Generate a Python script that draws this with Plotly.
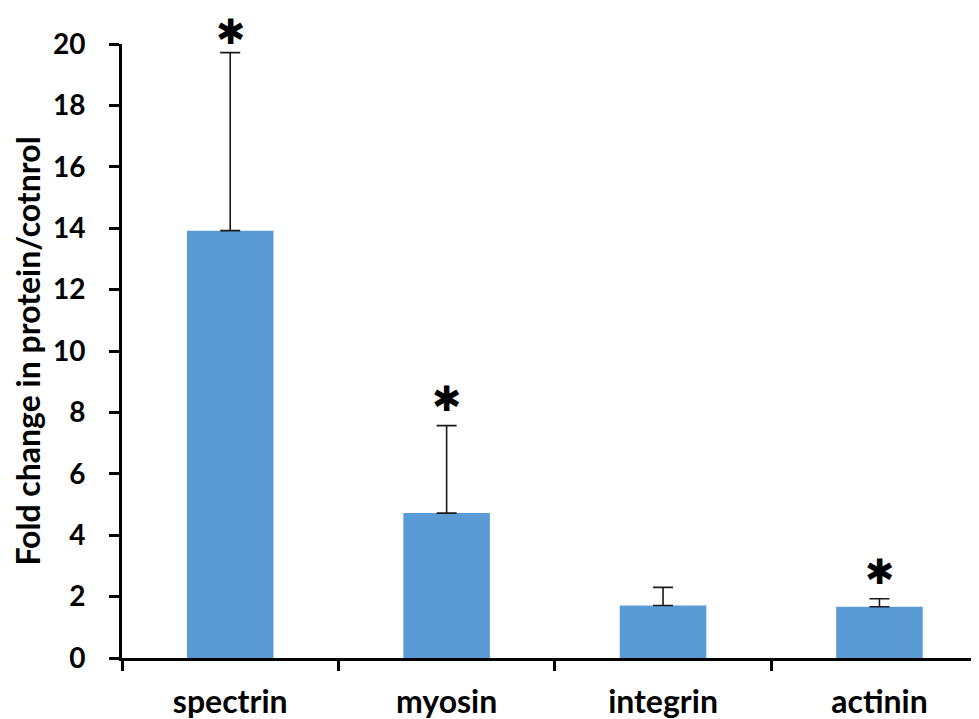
import plotly.graph_objects as go

categories = ["spectrin", "myosin", "integrin", "actinin"]
values = [13.92, 4.72, 1.71, 1.67]
err_plus = [5.80, 2.85, 0.59, 0.26]
significant = [True, True, False, True]

FONT = "Lato"

fig = go.Figure()
fig.add_trace(go.Bar(
    x=categories, y=values,
    marker=dict(color="#5B9BD5", line=dict(width=0)),
    error_y=dict(type="data", symmetric=False, array=err_plus,
                 arrayminus=[0] * len(values),
                 color="#1a1a1a", thickness=1.6, width=10),
))

for c, v, e, s in zip(categories, values, err_plus, significant):
    if s:
        top = v + e
        # the tallest star is kept inside the figure; the others sit a bit higher
        shift = 0 if top > 18 else 6
        fig.add_annotation(x=c, y=top, text="✱", showarrow=False,
                           yanchor="bottom", yshift=shift, borderpad=0,
                           font=dict(family="DejaVu Sans", size=35, color="black"))

# page body has an 8px margin, so the figure is sized to fit inside the window
fig.update_layout(
    width=971, height=711,
    margin=dict(l=114, r=0, t=36, b=61, autoexpand=False),
    paper_bgcolor="white", plot_bgcolor="white",
    bargap=0.6, showlegend=False,
    font=dict(family=FONT, color="black"),
)
fig.update_xaxes(
    range=[-0.5, 3.46], showline=True, linecolor="black", linewidth=3,
    ticks="outside", tickson="boundaries", ticklen=10, tickwidth=3,
    tickcolor="black", showgrid=False, zeroline=False, automargin=False,
    tickfont=dict(family=FONT, size=32, color="black", weight="bold"),
    ticklabelstandoff=14,
)
fig.update_yaxes(
    range=[0, 20], tickvals=list(range(0, 21, 2)),
    showline=True, linecolor="black", linewidth=3,
    ticks="outside", ticklen=10, tickwidth=3, tickcolor="black",
    showgrid=False, zeroline=False, automargin=False,
    tickfont=dict(family=FONT, size=28, color="black", weight="bold"),
    ticklabelstandoff=18,
    title=dict(text="Fold change in protein/cotnrol",
               font=dict(family=FONT, size=32, color="black", weight="bold"),
               standoff=10),
)

fig.write_html("out.html")
